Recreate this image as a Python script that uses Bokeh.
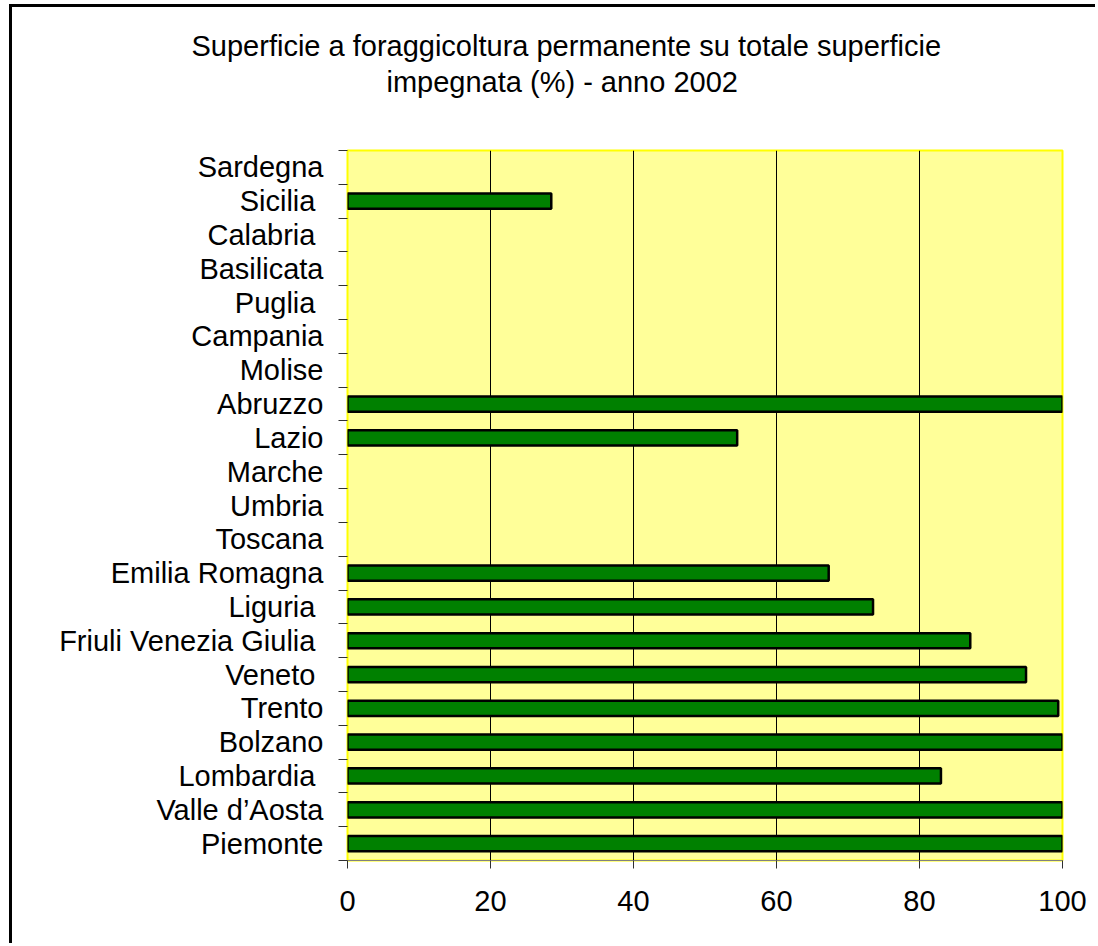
from bokeh.plotting import figure
from bokeh.models import ColumnDataSource, FixedTicker, Title
from bokeh.embed import file_html
from bokeh.resources import INLINE

# ---- data (bottom to top) ----
regions = ["Piemonte", "Valle d\u2019Aosta", "Lombardia ", "Bolzano", "Trento", "Veneto ",
           "Friuli Venezia Giulia ", "Liguria ", "Emilia Romagna", "Toscana", "Umbria",
           "Marche", "Lazio", "Abruzzo", "Molise", "Campania", "Puglia ", "Basilicata",
           "Calabria ", "Sicilia ", "Sardegna"]
values = [100, 100, 83.0, 100, 99.4, 94.9, 87.1, 73.5, 67.3, 0, 0, 0, 54.5, 100,
          0, 0, 0, 0, 0, 28.5, 0]
x_ticks = [0, 20, 40, 60, 80, 100]
title_lines = ["Superficie a foraggicoltura permanente su totale superficie",
               "impegnata (%) - anno 2002"]

FONT = "Liberation Sans"
FS = "29px"
n = len(regions)
centers = [i + 0.5 for i in range(n)]

p = figure(width=1086, height=939, x_range=(0, 100), y_range=(0, n),
           output_backend="svg", toolbar_location=None,
           min_border_left=335, min_border_right=36,
           min_border_top=143, min_border_bottom=86)
p.styles = {"border-left": "3px solid black", "border-top": "3px solid black",
            "margin-left": "9px", "margin-top": "4px"}
p.background_fill_color = "#FFFF99"
p.border_fill_color = "white"
p.outline_line_color = "#FFFF00"
p.outline_line_width = 2

# bars (only non-zero values have visible bars)
ys = [c for c, v in zip(centers, values) if v > 0]
xs = [v for v in values if v > 0]
src = ColumnDataSource(dict(y=ys, right=xs))
p.hbar(y="y", left=0, right="right", height=0.45, source=src,
       fill_color="#008000", line_color="black", line_width=2.5)

# x axis
p.xaxis.ticker = FixedTicker(ticks=x_ticks)
p.xaxis.axis_line_color = "#808080"
p.xaxis.major_tick_in = 0
p.xaxis.major_tick_out = 8
p.xaxis.major_tick_line_color = "#303030"
p.xaxis.minor_tick_line_color = None
p.xaxis.major_label_text_font = FONT
p.xaxis.major_label_text_font_size = FS
p.xaxis.major_label_text_color = "black"
p.xaxis.major_label_standoff = 22

# y axis: labels at category centres, ticks at boundaries
p.yaxis.ticker = FixedTicker(ticks=centers, minor_ticks=list(range(n + 1)))
p.yaxis.major_label_overrides = {float(c): r for c, r in zip(centers, regions)}
p.yaxis.axis_line_color = None
p.yaxis.major_tick_line_color = None
p.yaxis.major_tick_in = 0
p.yaxis.major_tick_out = 9
p.yaxis.minor_tick_in = 0
p.yaxis.minor_tick_out = 9
p.yaxis.minor_tick_line_color = "#303030"
p.yaxis.major_label_text_font = FONT
p.yaxis.major_label_text_font_size = FS
p.yaxis.major_label_text_color = "black"
p.yaxis.major_label_standoff = 15

# grid
p.xgrid.ticker = FixedTicker(ticks=x_ticks)
p.xgrid.grid_line_color = "black"
p.xgrid.grid_line_width = 1
p.ygrid.grid_line_color = None

# title: two lines, centred on the chart box (left of the frame centre)
def style_title(t):
    t.text_font = FONT
    t.text_font_size = FS
    t.text_font_style = "normal"
    t.text_color = "black"

p.title.text = title_lines[0]
p.title.align = "left"
p.title.offset = -156
p.title.standoff = 4
style_title(p.title)

# empty spacer between the title block and the plot area (nearest the frame)
spacer = Title(text=" ", align="left", standoff=19)
style_title(spacer)
p.add_layout(spacer, "above")

t2 = Title(text=title_lines[1], align="left", offset=39, standoff=0)
style_title(t2)
p.add_layout(t2, "above")

open("out.html", "w").write(file_html(p, INLINE))
